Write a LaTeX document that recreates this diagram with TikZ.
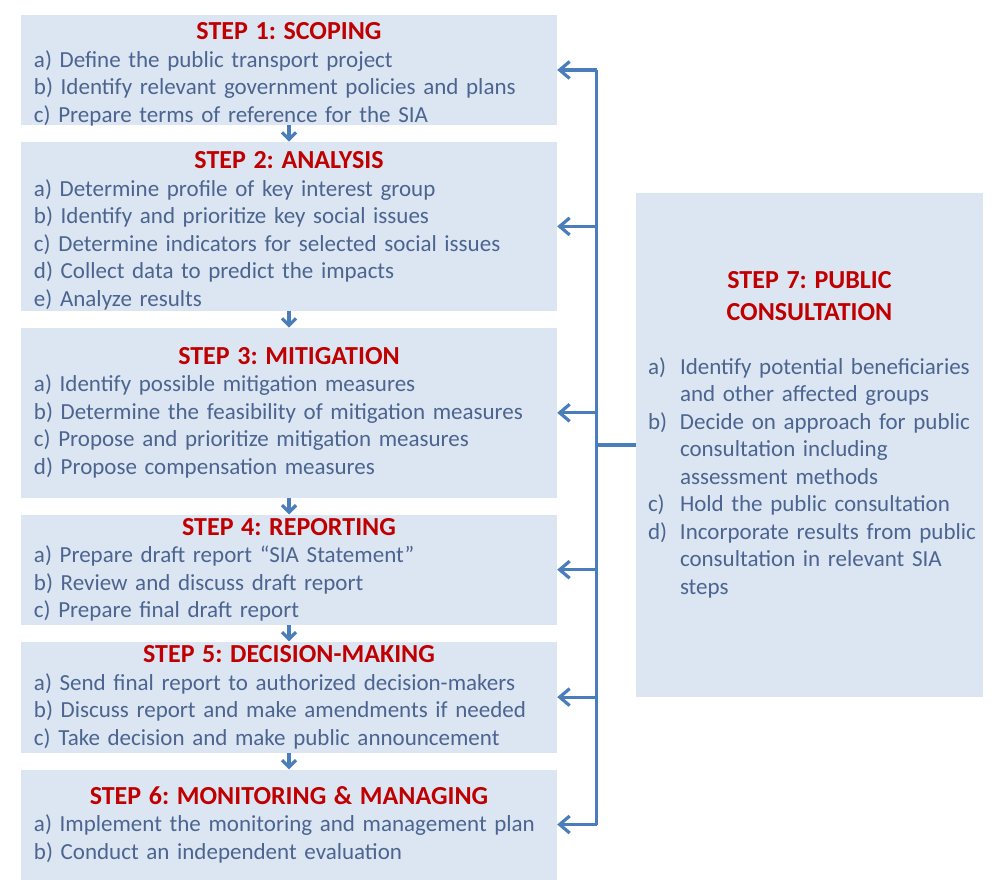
\documentclass[tikz,border=0pt]{standalone}
\usepackage{fontspec}
\setmainfont{Carlito}
\frenchspacing
\usetikzlibrary{positioning,arrows.meta}
\definecolor{boxfill}{HTML}{DCE6F2}
\definecolor{linkblue}{HTML}{4A7EBB}
\definecolor{stepred}{HTML}{C00000}
\definecolor{itemtext}{HTML}{4B6490}
\newcommand{\steptitle}[1]{{\fontsize{26}{32}\selectfont\bfseries\color{stepred}#1\par}}
\newcommand{\itemlbl}[1]{\makebox[32pt][l]{#1}}

\begin{document}
\begin{tikzpicture}[x=1pt, y=1pt,
		stepbox/.style={fill=boxfill, text=itemtext, inner xsep=13pt, inner ysep=0pt,
			text width=510pt, align=left, font=\fontsize{23}{27.5}\selectfont},
		link/.style={draw=linkblue, line width=3.2pt},
		feed/.style={link, -{Straight Barb[length=10pt, width=17pt]}},
		flow/.style={link, -{Straight Barb[length=7pt, width=14pt]}}]
	\useasboundingbox (0,0) rectangle (996,-890);
		\node[stepbox, minimum height=110pt] (scoping) at (289,-70) {\centering\steptitle{STEP 1: SCOPING}\raggedright
			a) Define the public transport project\\
			b) Identify relevant government policies and plans\\
			c) Prepare terms of reference for the SIA\par\vspace*{-9pt}};
		\node[stepbox, minimum height=169pt, below=16.5pt of scoping] (analysis) {\centering\steptitle{STEP 2: ANALYSIS}\raggedright
			a) Determine profile of key interest group\\
			b) Identify and prioritize key social issues\\
			c) Determine indicators for selected social issues\\
			d) Collect data to predict the impacts\\
			e) Analyze results\par\vspace*{-9pt}};
		\node[stepbox, minimum height=170pt, below=16.5pt of analysis] (mitig) {\centering\steptitle{STEP 3: MITIGATION}\raggedright
			a) Identify possible mitigation measures\\
			b) Determine the feasibility of mitigation measures\\
			c) Propose and prioritize mitigation measures\\
			d) Propose compensation measures};
		\node[stepbox, minimum height=110pt, below=16.5pt of mitig] (report) {\centering\steptitle{STEP 4: REPORTING}\raggedright
			a) Prepare draft report ``SIA Statement''\\
			b) Review and discuss draft report\\
			c) Prepare final draft report};
		\node[stepbox, minimum height=111pt, below=16.5pt of report] (decide) {\centering\steptitle{STEP 5: DECISION-MAKING}\raggedright
			a) Send final report to authorized decision-makers\\
			b) Discuss report and make amendments if needed\\
			c) Take decision and make public announcement};
		\node[stepbox, minimum height=110pt, below=16.5pt of decide] (monit) {\centering\steptitle{STEP 6: MONITORING \& MANAGING}\raggedright
			a) Implement the monitoring and management plan\\
			b) Conduct an independent evaluation};
		\node[stepbox, text width=323pt, inner xsep=12pt, minimum height=504pt] (consult) at (809.5,-445) {\centering\steptitle{STEP 7: PUBLIC\\CONSULTATION}\vspace{26pt}\raggedright
			\itemlbl{a)}Identify potential beneficiaries\\
			\hspace*{32pt}and other affected groups\\
			\itemlbl{b)}Decide on approach for public\\
			\hspace*{32pt}consultation including\\
			\hspace*{32pt}assessment methods\\
			\itemlbl{c)}Hold the public consultation\\
			\mbox{\itemlbl{d)}Incorporate results from public}\\
			\hspace*{32pt}consultation in relevant SIA\\
			\hspace*{32pt}steps\par\vspace*{20pt}};
		\draw[flow] (scoping.south) -- (analysis.north);
		\draw[flow] (analysis.south) -- (mitig.north);
		\draw[flow] (mitig.south) -- (report.north);
		\draw[flow] (report.south) -- (decide.north);
		\draw[flow] (decide.south) -- (monit.north);
		\draw[link] (consult.west) -- ++(-39,0) coordinate (bus);
		\draw[link] (bus |- scoping.east) -- (bus |- monit.east);
		\foreach \s in {scoping,analysis,mitig,report,decide,monit}
			\draw[feed] (bus |- \s.east) -- (\s.east);
	\end{tikzpicture}
\end{document}
